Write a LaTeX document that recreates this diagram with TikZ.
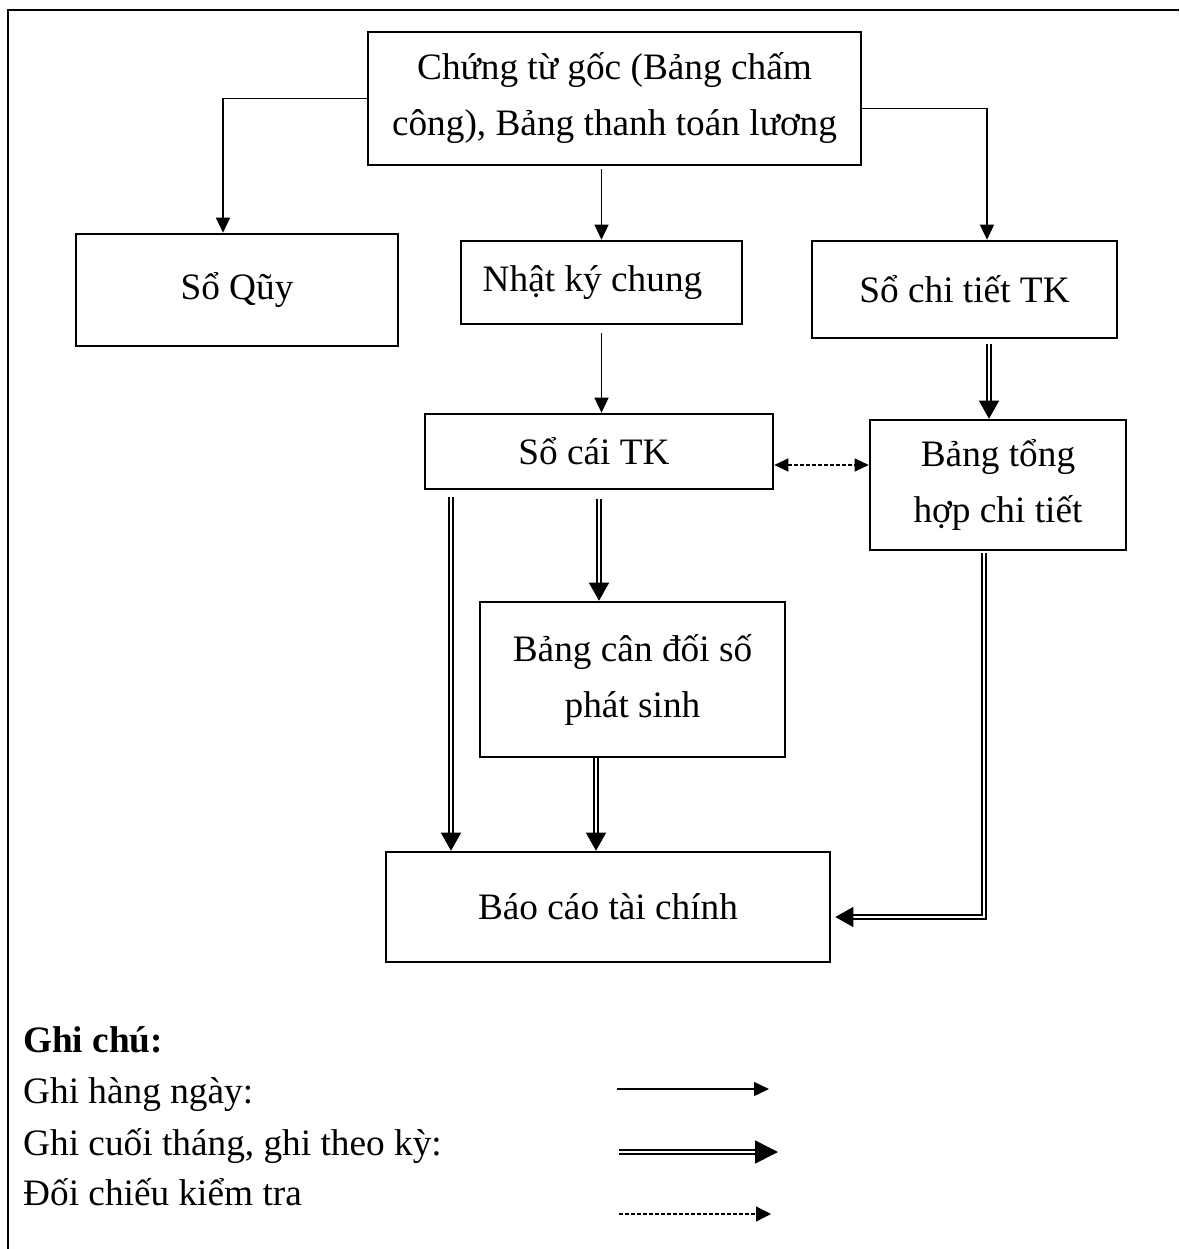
\documentclass[tikz,border=0pt]{standalone}
\usepackage{fontspec}
\setmainfont{Liberation Serif}
\usetikzlibrary{arrows.meta}
\tikzset{
  dtip/.tip={Triangle[length=15pt,width=14pt]},
  mtip/.tip={Triangle[length=18pt,width=20pt]},
  ctip/.tip={Triangle[length=14pt,width=13pt]},
}
\begin{document}
\begin{tikzpicture}[x=1pt,y=-1pt,
  font=\fontsize{37.3pt}{56pt}\selectfont,
  box/.style={draw, line width=2.6pt, inner sep=0pt, align=center},
  daily/.style={line width=1.4pt, -dtip},
  dbl/.style={double, double distance=2.6pt, line width=1.3pt, -mtip},
  chk/.style={line width=1.2pt, dash pattern=on 4pt off 2pt},
  legend/.style={anchor=base west, inner sep=0pt},
]
\useasboundingbox (0,0) rectangle (1179,1249);

% frame
\draw[line width=1.8pt] (8,1249) -- (8,10) -- (1179,10);

% boxes
\node[box, minimum width=493pt, minimum height=133pt] (src) at (614.5,98.5)
  {Chứng từ gốc (Bảng chấm\\công), Bảng thanh toán lương};
\node[box, minimum width=322pt, minimum height=112pt] (quy) at (237,290) {Sổ Qũy};
\node[box, minimum width=281pt, minimum height=83pt] (nkc) at (601.5,282.5) {Nhật ký chung\kern18pt};
\node[box, minimum width=305pt, minimum height=97pt] (sct) at (964.5,289.5) {Sổ chi tiết TK};
\node[box, minimum width=348pt, minimum height=75pt] (soc) at (599,451.5) {Sổ cái TK\kern10pt};
\node[box, minimum width=256pt, minimum height=130pt] (bth) at (998,485) {Bảng tổng\\hợp chi tiết};
\node[box, minimum width=305pt, minimum height=155pt] (bcd) at (632.5,679.5) {Bảng cân đối số\\phát sinh};
\node[box, minimum width=444pt, minimum height=110pt] (bctc) at (608,907) {Báo cáo tài chính};

% daily postings
\draw[daily] (src.west) -| ([xshift=-14pt]quy.north);
\draw[daily] ([yshift=-3pt]src.south -| nkc.north) -- (nkc.north);
\draw[daily] ([yshift=-10pt]src.east) -| ([xshift=22.5pt]sct.north);
\draw[daily] ([yshift=-8pt]nkc.south) -- (nkc.south |- soc.north);

% month-end postings
\draw[dbl] ([xshift=24.5pt,yshift=-5pt]sct.south) -- ([xshift=24.5pt]sct.south |- bth.north);
\draw[dbl] ([xshift=-148pt,yshift=-7pt]soc.south) -- ([xshift=-148pt]soc.south |- bctc.north);
\draw[dbl] ([yshift=-9pt]soc.south) -- (soc.south |- bcd.north);
\draw[dbl] ([xshift=-36.5pt]bcd.south) -- ([xshift=-36.5pt]bcd.south |- bctc.north);
\draw[dbl, shorten >=4pt] ([xshift=-14pt,yshift=-2pt]bth.south) |- ([yshift=-10pt]bctc.east);

% cross-check
\draw[chk, ctip-ctip] ([yshift=-13.5pt]soc.east) -- ([yshift=-13.5pt]soc.east -| bth.west);

% legend
\node[legend, font=\fontsize{37.3pt}{56pt}\selectfont\bfseries] (gc) at (23,1052) {Ghi chú:};
\node[legend] (t1) at (23,1103) {Ghi hàng ngày:};
\node[legend] (t2) at (23,1155) {Ghi cuối tháng, ghi theo kỳ:};
\node[legend] (t3) at (23,1205) {Đối chiếu kiểm tra};

\coordinate (a1) at (617,1089);
\coordinate (b1) at (769,1089);
\coordinate (a2) at (619,1152);
\coordinate (b2) at (778,1152);
\coordinate (a3) at (619,1214);
\coordinate (b3) at (771,1214);
\draw[daily] (a1) -- (b1);
\draw[double, double distance=2.8pt, line width=1.6pt, -{Triangle[length=23pt,width=23pt]}] (a2) -- (b2);
\draw[chk, -{Triangle[length=15pt,width=15pt]}] (a3) -- (b3);
\end{tikzpicture}
\end{document}
